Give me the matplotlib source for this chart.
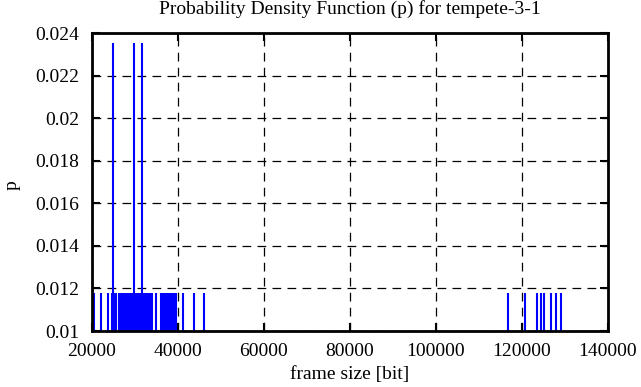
import numpy as np
import matplotlib
matplotlib.use("Agg")
import matplotlib.pyplot as plt

# frame sizes [bit] observed in the trace, with how often each occurs
frame_size = [
    20390, 22100, 23650,
    24650, 24880, 25100, 25600, 26200,
    26750, 26880, 27010, 27150, 27260, 27400, 27530, 27690, 27800, 27940,
    28070, 28200, 28350, 28470, 28600, 28730, 28880, 29000, 29140, 29280,
    29410, 29550, 29700, 29860, 29990, 30120, 30260, 30390, 30530, 30660,
    30800, 30930, 31070, 31200, 31340, 31450, 31560, 31700, 31840, 31980,
    32100, 32250, 32380, 32500, 32640, 32780, 32900, 33040, 33170, 33290,
    33400, 33500,
    34000, 34800, 36100, 36500, 37000, 37400, 37800, 38400, 38800, 39200,
    39500, 41200, 43650, 45980,
    116770, 120640, 123430, 124360, 125130, 126690, 127920, 129020,
]
count = [1] * len(frame_size)
for tall in (24880, 29700, 31560):
    count[frame_size.index(tall)] = 2

x_ticks = [20000, 40000, 60000, 80000, 100000, 120000, 140000]
y_ticks = [0.01, 0.012, 0.014, 0.016, 0.018, 0.02, 0.022, 0.024]

x = np.array(frame_size, dtype=float)
p = np.array(count, dtype=float) / np.sum(count)

plt.rcParams["font.family"] = ["Liberation Serif", "DejaVu Serif"]
fs = 14

W, H = 641, 387
fig = plt.figure(figsize=(W / 100, H / 100), dpi=100)
ax = fig.add_axes([92 / W, (H - 331) / H, 516 / W, 298 / H])

ax.vlines(x, 0, p, colors="#0000ff", linewidth=1.5)

ax.set_xlim(20000, 140000)
ax.set_ylim(0.01, 0.024)
ax.set_xticks(x_ticks)
ax.set_xticklabels([str(v) for v in x_ticks])
ax.set_yticks(y_ticks)
ax.set_yticklabels([f"{v:g}" for v in y_ticks])

ax.grid(True, color="black", linestyle=(0, (7, 5)), linewidth=0.9)
ax.tick_params(direction="in", length=6, width=1.5, top=True, right=True,
               labelsize=fs)
ax.tick_params(axis="x", pad=9)
ax.tick_params(axis="y", pad=9)
for s in ax.spines.values():
    s.set_linewidth(2)

fig.text(350 / W, 1 - 9 / H, "Probability Density Function (p) for tempete-3-1",
         fontsize=fs, ha="center", va="center")
fig.text(350 / W, 1 - 374 / H, "frame size [bit]",
         fontsize=fs, ha="center", va="center")
fig.text(12 / W, 1 - 185 / H, "p", fontsize=fs, ha="center", va="center",
         rotation=90)

fig.savefig("out.png", dpi=100)
